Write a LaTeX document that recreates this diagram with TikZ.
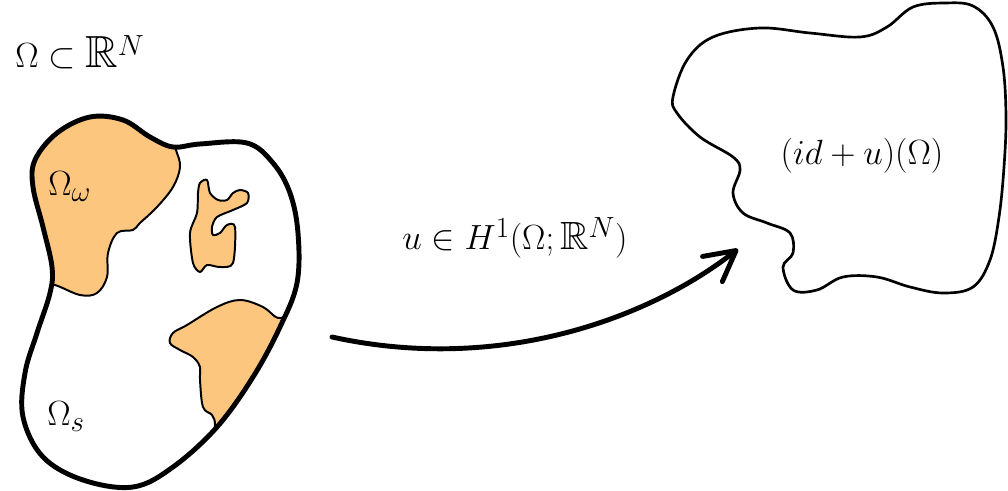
\documentclass[tikz,border=0pt]{standalone}
\usepackage{amssymb}
\usepackage{tikz}
\usetikzlibrary{arrows.meta}
\definecolor{phase}{RGB}{253,198,126}
\tikzset{
    domain rim/.style={
        draw=black,
        line width=3.5pt,
        line join=round
    },
    image rim/.style={
        draw=black,
        line width=1.9pt,
        line join=round
    },
    phase fill/.style={
        fill=phase
    },
    phase rim/.style={
        draw=black,
        line width=1.4pt,
        line join=round
    },
    map arrow/.style={
        line width=3.5pt,
        line cap=round,
        -{Straight Barb[length=0.75cm, width=0.8cm, round]}
    },
    label/.style={
        font=\fontsize{28}{32}\selectfont,
        inner sep=0pt
    }
}
\newcommand{\domainpath}{plot[smooth cycle, tension=0.6] coordinates {
    (35,160) (57,133) (90,117) (123,120) (150,137) (173,147) (200,144)
    (247,143) (273,163) (290,193) (298,233) (297,283) (280,327) (253,377)
    (217,427) (173,467) (133,487) (83,480) (43,457) (23,417) (25,373)
    (37,333) (50,293) (52,267) (43,227) (33,187)}}

\begin{document}
\begin{tikzpicture}[x=0.025cm, y=-0.025cm]
            % Page frame :
            \useasboundingbox (0,0) rectangle (1008,491);

            % Phases inside the domain
            \begin{scope}
                \clip \domainpath;
                % weak phase, upper left
                \fill [phase fill]
                    plot[smooth, tension=0.6] coordinates {
                        (168,128) (176,150) (180,167) (173,187) (157,207)
                        (140,223) (133,230) (117,233) (108,253) (107,277)
                        (97,293) (80,295) (55,285) (35,282)}
                    -- (0,300) -- (0,90) -- (168,90) -- cycle;
                \draw [phase rim]
                    plot[smooth, tension=0.6] coordinates {
                        (168,128) (176,150) (180,167) (173,187) (157,207)
                        (140,223) (133,230) (117,233) (108,253) (107,277)
                        (97,293) (80,295) (55,285) (35,282)};
                % weak phase, lower right
                \fill [phase fill]
                    plot[smooth, tension=0.6] coordinates {
                        (292,314) (278,318) (263,307) (240,300) (217,307)
                        (187,325) (173,333) (170,343) (180,350) (193,357)
                        (200,367) (200,380) (203,407) (212,415) (215,425)
                        (212,445)}
                    -- (350,450) -- (350,300) -- cycle;
                \draw [phase rim]
                    plot[smooth, tension=0.6] coordinates {
                        (292,314) (278,318) (263,307) (240,300) (217,307)
                        (187,325) (173,333) (170,343) (180,350) (193,357)
                        (200,367) (200,380) (203,407) (212,415) (215,425)
                        (212,445)};
            \end{scope}

            % weak phase, small island
            \draw [phase fill, phase rim]
                plot[smooth cycle, tension=0.5] coordinates {
                    (200,183) (207,180) (210,193) (218,200) (227,200)
                    (233,193) (240,190) (248,193) (247,203) (233,210)
                    (217,217) (212,227) (213,235) (220,233) (227,225)
                    (235,227) (233,263) (220,267) (207,265) (200,272)
                    (193,263) (190,233) (197,213) (198,193)};

            % Domain
            \draw [domain rim] \domainpath;

            % Deformed domain
            \draw [image rim]
                plot[smooth cycle, tension=0.6] coordinates {
                    (673,97) (687,60) (713,37) (760,28) (810,33) (860,37)
                    (887,27) (913,7) (945,3) (973,6) (993,27) (1003,67)
                    (1006,117) (1004,167) (999,217) (990,260) (973,287)
                    (943,293) (910,287) (877,277) (843,277) (817,290)
                    (793,290) (783,267) (793,253) (790,233) (767,223)
                    (743,213) (733,193) (740,170) (733,157) (700,137)
                    (677,113)};

            % Labels
            \node (omega) [label, anchor=base west, font=\fontsize{32}{36}\selectfont] at (15,68)
                {$\Omega\subset\mathbb{R}^N$};
            \node (omegaw) [label, anchor=base west] at (48,196)
                {$\Omega_\omega$};
            \node (omegas) [label, anchor=base west] at (47,426)
                {$\Omega_s$};
            \node (deformed) [label, anchor=base] at (862,165)
                {$(id+u)(\Omega)$};

            % Displacement
            \coordinate (mapstart) at (332,337);
            \coordinate (mapend) at (738,249);
            \draw [map arrow] (mapstart) .. controls (500,374) and (650,318) .. (mapend);
            \node (space) [label, anchor=base] at (515,250)
                {$u\in H^1(\Omega;\mathbb{R}^N)$};
        \end{tikzpicture}
\end{document}
